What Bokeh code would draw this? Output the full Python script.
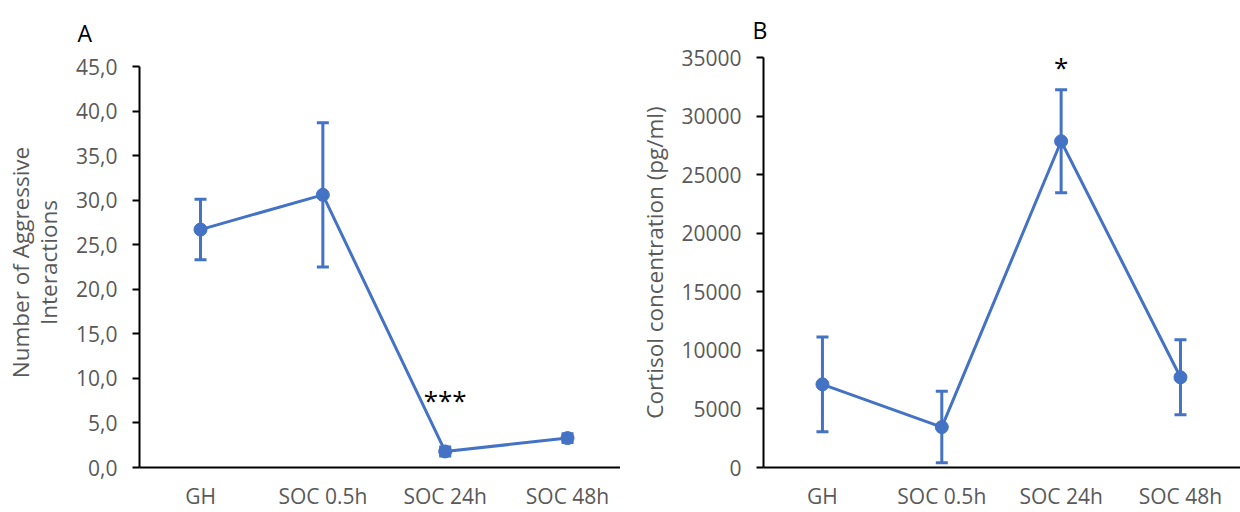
from bokeh.plotting import figure
from bokeh.layouts import row
from bokeh.models import (ColumnDataSource, Whisker, TeeHead, Range1d, FixedTicker, LinearAxis)
from bokeh.core.properties import value
from bokeh.embed import file_html
from bokeh.resources import INLINE

# ---------------- data ----------------
categories = ["GH", "SOC 0.5h", "SOC 24h", "SOC 48h"]

aggr_mean = [26.7, 30.6, 1.8, 3.3]
aggr_err = [3.4, 8.1, 0.5, 0.5]

cort_mean = [7100, 3450, 27850, 7700]
cort_err = [4050, 3050, 4400, 3200]

a_ticks = [0, 5, 10, 15, 20, 25, 30, 35, 40, 45]
a_tick_labels = ["0,0", "5,0", "10,0", "15,0", "20,0", "25,0", "30,0", "35,0", "40,0", "45,0"]
b_ticks = [0, 5000, 10000, 15000, 20000, 25000, 30000, 35000]
b_tick_labels = ["0", "5000", "10000", "15000", "20000", "25000", "30000", "35000"]

sig_a = ("SOC 24h", "***")
sig_b = ("SOC 24h", "*")

BLUE = "#4472C4"
GREY = "#595959"
FONT = "Open Sans"

FIG_H = 512
FRAME_TOP = 57
ZERO_PX = 467


def make_panel(mean, err, ticks, tick_labels, axis_max, top_tick_px, ylabels,
               letter, letter_offset, letter_standoff, sig, sig_px_above_zero,
               left, xr, width, label_standoff):
    per_px = axis_max / (ZERO_PX - top_tick_px)
    y_end = axis_max + (top_tick_px - FRAME_TOP) * per_px
    xs = list(range(len(categories)))

    p = figure(width=width, height=FIG_H, output_backend="svg", toolbar_location=None,
               x_range=Range1d(*xr), y_range=Range1d(0, y_end),
               min_border_left=left, min_border_right=0,
               min_border_top=FRAME_TOP, min_border_bottom=FIG_H - ZERO_PX)
    p.outline_line_color = None
    p.xgrid.visible = False
    p.ygrid.visible = False

    # panel letter
    p.title.text = letter
    p.title.text_font = FONT
    p.title.text_font_size = "23px"
    p.title.text_font_style = "normal"
    p.title.text_color = "black"
    p.title.align = "left"
    p.title.offset = letter_offset
    p.title.standoff = letter_standoff

    src = ColumnDataSource(dict(
        x=xs, y=mean,
        lo=[m - e for m, e in zip(mean, err)],
        hi=[m + e for m, e in zip(mean, err)]))

    p.line("x", "y", source=src, line_width=3, line_color=BLUE)
    w = Whisker(base="x", upper="hi", lower="lo", source=src, dimension="height",
                line_color=BLUE, line_width=3,
                upper_head=TeeHead(size=12, line_color=BLUE, line_width=3),
                lower_head=TeeHead(size=12, line_color=BLUE, line_width=3))
    p.add_layout(w)
    p.scatter("x", "y", source=src, size=13, fill_color=BLUE, line_color=BLUE)

    # x axis
    xa = p.xaxis[0]
    xa.ticker = FixedTicker(ticks=xs)
    xa.major_label_overrides = {i: c for i, c in enumerate(categories)}
    xa.major_tick_out = 0
    xa.major_tick_in = 0
    xa.major_tick_line_color = None
    xa.minor_tick_line_color = None
    xa.axis_line_color = "black"
    xa.axis_line_width = 2
    xa.major_label_text_font = FONT
    xa.major_label_text_font_size = "21px"
    xa.major_label_text_color = GREY
    xa.major_label_standoff = 14
    xa.axis_label_standoff = 0

    # y axis
    ya = p.yaxis[0]
    ya.bounds = (0, axis_max)
    ya.ticker = FixedTicker(ticks=ticks)
    ya.major_label_overrides = {t: l for t, l in zip(ticks, tick_labels)}
    ya.minor_tick_line_color = None
    ya.major_tick_out = 7
    ya.major_tick_in = 0
    ya.major_tick_line_color = "black"
    ya.major_tick_line_width = 2
    ya.axis_line_color = "black"
    ya.axis_line_width = 2
    ya.major_label_text_font = FONT
    ya.major_label_text_font_size = "21px"
    ya.major_label_text_color = GREY
    ya.major_label_standoff = 15
    ya.axis_label = ylabels[-1]
    ya.axis_label_text_font = FONT
    ya.axis_label_text_font_size = "22.5px"
    ya.axis_label_text_font_style = "normal"
    ya.axis_label_text_color = GREY
    ya.axis_label_standoff = label_standoff

    # outer label line(s) as extra label-only axes
    for lab in reversed(ylabels[:-1]):
        ax = LinearAxis(axis_label=lab, ticker=FixedTicker(ticks=[]),
                        axis_line_color=None, major_tick_out=0, major_tick_in=0,
                        minor_tick_out=0, minor_tick_in=0,
                        major_label_standoff=0, axis_label_standoff=-5,
                        major_label_text_font_size="0px",
                        axis_label_text_font=FONT, axis_label_text_font_size="22.5px",
                        axis_label_text_font_style="normal",
                        axis_label_text_color=GREY)
        p.add_layout(ax, "left")

    # significance marks
    si = categories.index(sig[0])
    p.text(x=[si], y=[sig_px_above_zero * per_px], text=[sig[1]],
           text_font=value(FONT), text_font_size="26px", text_color="black",
           text_align="center", text_baseline="alphabetic")
    return p


pa = make_panel(aggr_mean, aggr_err, a_ticks, a_tick_labels, 45, 66,
                ["Number of Aggressive", "Interactions"], "A", -62, 18,
                sig_a, 68, left=139, xr=(-0.4987, 3.433), width=620, label_standoff=9)
pb = make_panel(cort_mean, cort_err, b_ticks, b_tick_labels, 35000, 57,
                ["Cortisol concentration (pg/ml)"], "B", -11, 23,
                sig_b, 401, left=143, xr=(-0.494, 3.503), width=620, label_standoff=8)

layout = row(pa, pb)
open("out.html", "w").write(file_html(layout, INLINE))
